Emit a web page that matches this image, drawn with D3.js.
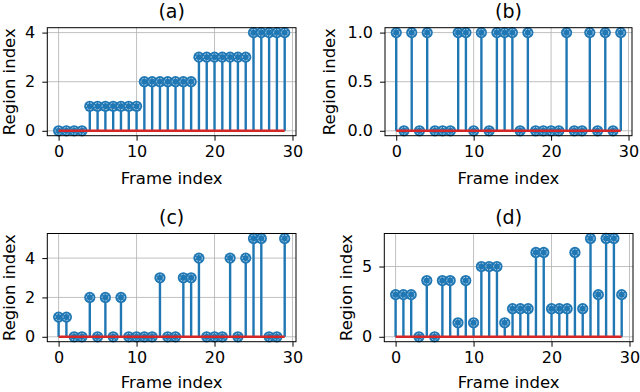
<!DOCTYPE html>
<html><head><meta charset="utf-8">
<script src="https://cdn.jsdelivr.net/npm/d3@7"></script>
<style>body{margin:0;background:#fff}svg{display:block}</style>
</head><body>
<svg id="c" width="640" height="392"></svg>
<script>
const frames = [0,1,2,3,4,5,6,7,8,9,10,11,12,13,14,15,16,17,18,19,20,21,22,23,24,25,26,27,28,29];
const seriesA = [0,0,0,0,1,1,1,1,1,1,1,2,2,2,2,2,2,2,3,3,3,3,3,3,3,4,4,4,4,4];
const seriesB = [1,0,1,0,1,0,0,0,1,1,0,1,0,1,1,1,0,1,0,0,0,0,1,0,0,1,0,1,0,1];
const seriesC = [1,1,0,0,2,0,2,0,2,0,0,0,0,3,0,0,3,3,4,0,0,0,4,0,4,5,5,0,0,5];
const seriesD = [3,3,3,0,4,0,4,4,1,4,1,5,5,5,1,2,2,2,6,6,2,2,2,6,2,7,3,7,7,3];
const titles = ["(a)","(b)","(c)","(d)"];
const xTicks = [0,10,20,30];
const yTicksA = [0,2,4];
const yTicksB = [0,0.5,1];
const yTicksC = [0,2,4];
const yTicksD = [0,5];
const xLabel = "Frame index";
const yLabel = "Region index";

const panels = [
  {t:titles[0], v:seriesA, yt:yTicksA, fmt:d3.format("d"),   box:{l:47.3,r:296,t:27.7,b:135.7}, ylx:15, xly:48.5},
  {t:titles[1], v:seriesB, yt:yTicksB, fmt:d3.format(".1f"), box:{l:385,r:632,t:27.7,b:135.7}, ylx:335, xly:48.5},
  {t:titles[2], v:seriesC, yt:yTicksC, fmt:d3.format("d"),   box:{l:47.3,r:296,t:233.5,b:341.7}, ylx:15, xly:46},
  {t:titles[3], v:seriesD, yt:yTicksD, fmt:d3.format("d"),   box:{l:384.3,r:633,t:233.5,b:341.7}, ylx:352, xly:46}
];

const svg = d3.select("#c");
const FONT = "DejaVu Sans, sans-serif";
const BLUE = "#1f77b4", RED = "#d62728";

panels.forEach(p => {
  const b = p.box;
  const x = d3.scaleLinear().domain([-1.45, 30.45]).range([b.l, b.r]);
  const mn = d3.min(p.v), mx = d3.max(p.v), pad = (mx - mn) * 0.05;
  const y = d3.scaleLinear().domain([mn - pad, mx + pad]).range([b.b, b.t]);
  const g = svg.append("g");

  // grid
  g.selectAll(".gx").data(xTicks.filter(d => x(d) <= b.r)).enter().append("line")
    .attr("x1", d => x(d)).attr("x2", d => x(d)).attr("y1", b.t).attr("y2", b.b)
    .attr("stroke", "#b0b0b0").attr("stroke-width", 0.8);
  g.selectAll(".gy").data(p.yt).enter().append("line")
    .attr("y1", d => y(d)).attr("y2", d => y(d)).attr("x1", b.l).attr("x2", b.r)
    .attr("stroke", "#b0b0b0").attr("stroke-width", 0.8);

  // stems
  g.selectAll(".stem").data(frames).enter().append("line")
    .attr("x1", d => x(d)).attr("x2", d => x(d))
    .attr("y1", y(0)).attr("y2", (d, i) => y(p.v[i]))
    .attr("stroke", BLUE).attr("stroke-width", 2.4);
  // markers
  const mk = g.selectAll(".mk").data(frames).enter().append("g")
    .attr("transform", (d, i) => `translate(${x(d)},${y(p.v[i])})`);
  mk.append("circle").attr("r", 5.6).attr("fill", BLUE);
  mk.append("circle").attr("r", 3.4).attr("fill", "none").attr("stroke", "#cfe3f2")
    .attr("stroke-width", 0.8).attr("stroke-dasharray", "2,1.2");
  // baseline
  g.append("line").attr("x1", x(frames[0])).attr("x2", x(frames[frames.length-1]))
    .attr("y1", y(0)).attr("y2", y(0)).attr("stroke", RED).attr("stroke-width", 2.4);

  // spines
  g.append("rect").attr("x", b.l).attr("y", b.t).attr("width", b.r - b.l).attr("height", b.b - b.t)
    .attr("fill", "none").attr("stroke", "#000").attr("stroke-width", 1);

  // axes
  const xa = g.append("g").attr("transform", `translate(0,${b.b})`)
    .call(d3.axisBottom(x).tickValues(xTicks).tickSize(5).tickPadding(5).tickFormat(d3.format("d")));
  const ya = g.append("g").attr("transform", `translate(${b.l},0)`)
    .call(d3.axisLeft(y).tickValues(p.yt).tickSize(5).tickPadding(7).tickFormat(p.fmt));
  [xa, ya].forEach(a => {
    a.select(".domain").remove();
    a.selectAll("line").attr("stroke", "#000").attr("stroke-width", 1);
    a.selectAll("text").attr("font-family", FONT).attr("font-size", 16).attr("fill", "#000");
  });

  // labels
  g.append("text").attr("x", (b.l + b.r) / 2).attr("y", b.b + p.xly)
    .attr("text-anchor", "middle").attr("font-family", FONT).attr("font-size", 16.5).text(xLabel);
  g.append("text").attr("transform", `translate(${p.ylx},${(b.t + b.b) / 2}) rotate(-90)`)
    .attr("text-anchor", "middle").attr("font-family", FONT).attr("font-size", 16.5).text(yLabel);
  g.append("text").attr("x", (b.l + b.r) / 2).attr("y", b.t - 10)
    .attr("text-anchor", "middle").attr("font-family", FONT).attr("font-size", 19).text(p.t);
});
</script>
</body></html>
